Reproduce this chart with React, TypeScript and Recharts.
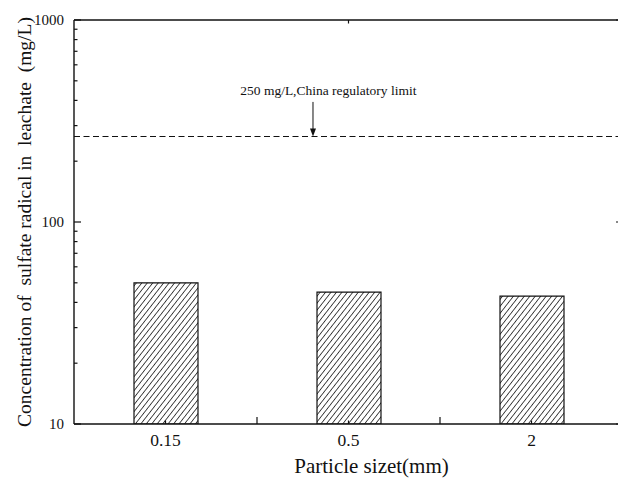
import React from "react";
import { ComposedChart, Bar, XAxis, YAxis, ReferenceLine, ReferenceDot } from "recharts";

// particle sizes (mm) and sulfate in leachate (mg/L)
const sizes = ["0.15", "0.5", "2"];
const sulfate = [50, 45, 43];

// regulatory limit line and its note
const limitValue = 265;
const limitNote = "250 mg/L,China regulatory limit";
const arrowX = 1.306;
const arrowTop = 393;
const noteX = 1.39;
const noteY = 425;

// log axis ticks
const yMajor = [10, 100, 1000];
const yMinor = [20, 30, 40, 50, 60, 70, 80, 90, 200, 300, 400, 500, 600, 700, 800, 900];
const yTicks = [...yMajor, ...yMinor].sort((a, b) => a - b);

// bottom axis: label ticks at category middles, long ticks between categories
const xTicks = [0.5, 1, 1.5, 2, 2.5];
// top frame axis ticks
const topTicks = [1, 2, 3, 4, 5, 6, 7, 8, 9];

const data = sizes.map((size, i) => ({ size, slot: i + 0.5, value: sulfate[i] }));

const FONT = '"Liberation Serif", "Times New Roman", serif';
const INK = "#111";

const LeftTick = (props: any) => {
  const { x, y, payload } = props;
  const major = yMajor.includes(payload.value);
  return (
    <g>
      <line x1={x} x2={x + (major ? 7 : 3.5)} y1={y} y2={y} stroke={INK} strokeWidth={1.2} />
      {major && (
        <text x={x - 10} y={y} dy="0.35em" textAnchor="end" fontSize={15} fontFamily={FONT} fill={INK}>
          {payload.value}
        </text>
      )}
    </g>
  );
};

const RightTick = (props: any) => {
  const { x, y, payload } = props;
  const major = yMajor.includes(payload.value);
  return <line x1={x} x2={x - (major ? 7 : 3.5)} y1={y} y2={y} stroke={INK} strokeWidth={1.2} />;
};

const BottomTick = (props: any) => {
  const { x, y, payload } = props;
  const mid = payload.value % 1 !== 0;
  return (
    <g>
      <line x1={x} x2={x} y1={y} y2={y - (mid ? 3.5 : 7)} stroke={INK} strokeWidth={1.2} />
      {mid && (
        <text x={x} y={y + 22} textAnchor="middle" fontSize={17.5} fontFamily={FONT} fill={INK}>
          {sizes[Math.floor(payload.value)]}
        </text>
      )}
    </g>
  );
};

const TopTick = (props: any) => {
  const { x, y, payload } = props;
  const major = payload.value % 2 === 0;
  return <line x1={x} x2={x} y1={y} y2={y + (major ? 7 : 3.5)} stroke={INK} strokeWidth={1.2} />;
};

export default function App() {
  return (
    <div style={{ position: "absolute", left: 0, top: 0, width: 618, height: 480, overflow: "hidden", background: "#fff" }}>
      <ComposedChart width={640} height={480} data={data} margin={{ top: 0, right: 7, bottom: 0, left: 0 }}>
        <defs>
          <pattern id="hatch" patternUnits="userSpaceOnUse" width={4.3} height={4.3} patternTransform="rotate(38)">
            <rect width={4.3} height={4.3} fill="#fff" />
            <line x1={2.15} y1={0} x2={2.15} y2={4.3} stroke="#333" strokeWidth={0.9} />
          </pattern>
        </defs>

        <XAxis
          dataKey="slot"
          type="number"
          domain={[0, 3]}
          ticks={xTicks}
          interval={0}
          allowDataOverflow
          height={56}
          tickSize={0}
          tickMargin={0}
          tick={<BottomTick />}
          axisLine={{ stroke: INK, strokeWidth: 1.4 }}
          label={(p: any) => {
            const vb = p.viewBox;
            return (
              <text x={vb.x + vb.width / 2 + 23} y={vb.y + 49} textAnchor="middle" fontSize={21} fontFamily={FONT} fill={INK}>
                Particle sizet(mm)
              </text>
            );
          }}
        />
        <XAxis
          xAxisId="top"
          orientation="top"
          type="number"
          domain={[0, 10]}
          ticks={topTicks}
          interval={0}
          allowDataOverflow
          height={20}
          tickSize={0}
          tickMargin={0}
          tick={<TopTick />}
          axisLine={{ stroke: INK, strokeWidth: 1.4 }}
        />
        <YAxis
          scale="log"
          type="number"
          domain={[10, 1000]}
          ticks={yTicks}
          interval={0}
          allowDataOverflow
          width={74}
          tickSize={0}
          tickMargin={0}
          tick={<LeftTick />}
          axisLine={{ stroke: INK, strokeWidth: 1.4 }}
          label={(p: any) => {
            const vb = p.viewBox;
            const cx = vb.x + 24;
            const cy = vb.y + vb.height / 2;
            return (
              <text
                x={cx}
                y={cy}
                transform={`rotate(-90 ${cx} ${cy})`}
                textAnchor="middle"
                dominantBaseline="central"
                fontSize={19.5}
                fontFamily={FONT}
                fill={INK}
                style={{ whiteSpace: "pre" }}
              >
                {"Concentration of  sulfate radical in  leachate  (mg/L)"}
              </text>
            );
          }}
        />
        <YAxis
          yAxisId="right"
          orientation="right"
          scale="log"
          type="number"
          domain={[10, 1000]}
          ticks={yTicks}
          interval={0}
          allowDataOverflow
          width={10}
          tickSize={0}
          tickMargin={0}
          tick={<RightTick />}
          axisLine={{ stroke: INK, strokeWidth: 1.4 }}
        />

        <Bar dataKey="value" barSize={64} fill="url(#hatch)" stroke={INK} strokeWidth={1.2} isAnimationActive={false} />

        <ReferenceLine y={limitValue} stroke={INK} strokeWidth={1.2} strokeDasharray="6 3.5" />
        <ReferenceLine
          segment={[
            { x: arrowX, y: arrowTop },
            { x: arrowX, y: limitValue * 1.06 },
          ]}
          stroke={INK}
          strokeWidth={1}
        />
        <ReferenceDot
          x={arrowX}
          y={limitValue}
          shape={(p: any) => (
            <polygon points={`${p.cx},${p.cy} ${p.cx - 3},${p.cy - 8} ${p.cx + 3},${p.cy - 8}`} fill={INK} />
          )}
        />
        <ReferenceDot
          x={noteX}
          y={noteY}
          shape={(p: any) => (
            <text x={p.cx} y={p.cy} textAnchor="middle" fontSize={13.5} fontFamily={FONT} fill={INK}>
              {limitNote}
            </text>
          )}
        />
      </ComposedChart>
    </div>
  );
}
